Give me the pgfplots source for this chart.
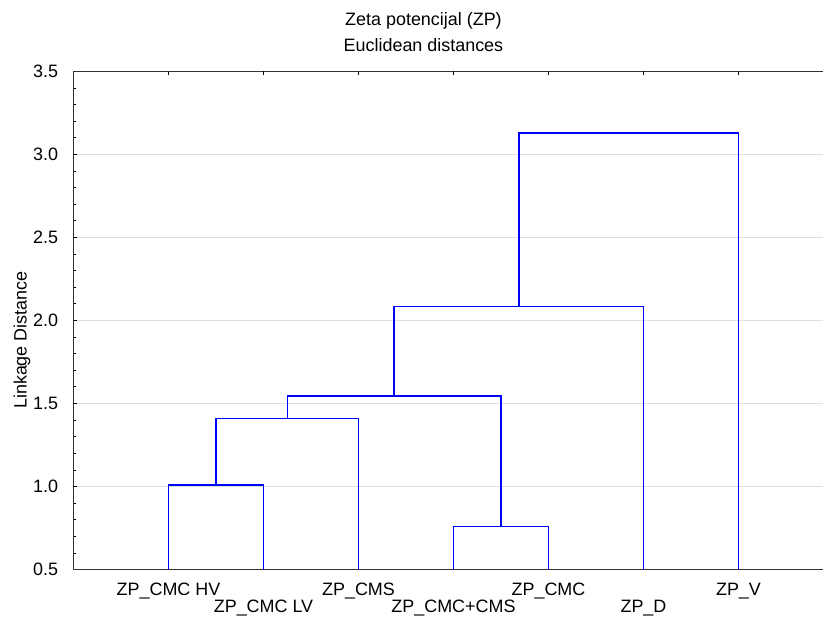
\documentclass[border=0pt]{standalone}
\usepackage{fontspec}
\setmainfont{Liberation Sans}
\usepackage{pgfplots}
\pgfplotsset{compat=1.18}
\definecolor{dendro}{rgb}{0,0,1}
\begin{document}
\begin{tikzpicture}[font=\fontsize{18}{21.6}\selectfont]
\begin{axis}[
  scale only axis, width=750.5bp, height=498bp,
  xmin=0, xmax=7.9, ymin=0.5, ymax=3.5,
  clip=false,
  axis line style={black!80, line width=1bp},
  xtick={1,3,5,7},
  xticklabels={ZP\_CMC HV, ZP\_CMS, ZP\_CMC, ZP\_V},
  extra x ticks={2,4,6},
  extra x tick labels={ZP\_CMC LV, ZP\_CMC+CMS, ZP\_D},
  extra x tick style={xticklabel style={yshift=-17bp}},
  xticklabel style={anchor=base, yshift=-26bp},
  xtick pos=both, ytick pos=left,
  ytick={0.5,1.0,1.5,2.0,2.5,3.0,3.5},
  minor y tick num=4,
  yticklabel style={/pgf/number format/fixed, /pgf/number format/fixed zerofill, /pgf/number format/precision=1, xshift=-12bp},
  /pgf/number format/assume math mode=true,
  major tick length=4bp, minor tick length=2.5bp,
  tick style={black, line width=0.8bp},
  ymajorgrids,
  major grid style={gray!25, line width=1bp},
]
\addplot[draw=dendro, line width=1.4bp, no markers] coordinates {(1,0.5) (1,1.008) (2,1.008) (2,0.5)};
\addplot[draw=dendro, line width=1.4bp, no markers] coordinates {(1.5,1.008) (1.5,1.41) (3,1.41) (3,0.5)};
\addplot[draw=dendro, line width=1.4bp, no markers] coordinates {(4,0.5) (4,0.76) (5,0.76) (5,0.5)};
\addplot[draw=dendro, line width=1.4bp, no markers] coordinates {(2.25,1.41) (2.25,1.545) (4.5,1.545) (4.5,0.76)};
\addplot[draw=dendro, line width=1.4bp, no markers] coordinates {(3.375,1.545) (3.375,2.085) (6,2.085) (6,0.5)};
\addplot[draw=dendro, line width=1.4bp, no markers] coordinates {(4.6875,2.085) (4.6875,3.13) (7,3.13) (7,0.5)};
\node[anchor=base] at ([yshift=46bp]axis cs:3.684,3.5) {Zeta potencijal (ZP)};
\node[anchor=base] at ([yshift=20bp]axis cs:3.684,3.5) {Euclidean distances};
\node[rotate=90] at ([xshift=-51.5bp]axis cs:0,1.882) {Linkage Distance};
\end{axis}
\pgfresetboundingbox
\useasboundingbox (-73.5bp,-47.5bp) rectangle (749.5bp,569.5bp);
\end{tikzpicture}
\end{document}
